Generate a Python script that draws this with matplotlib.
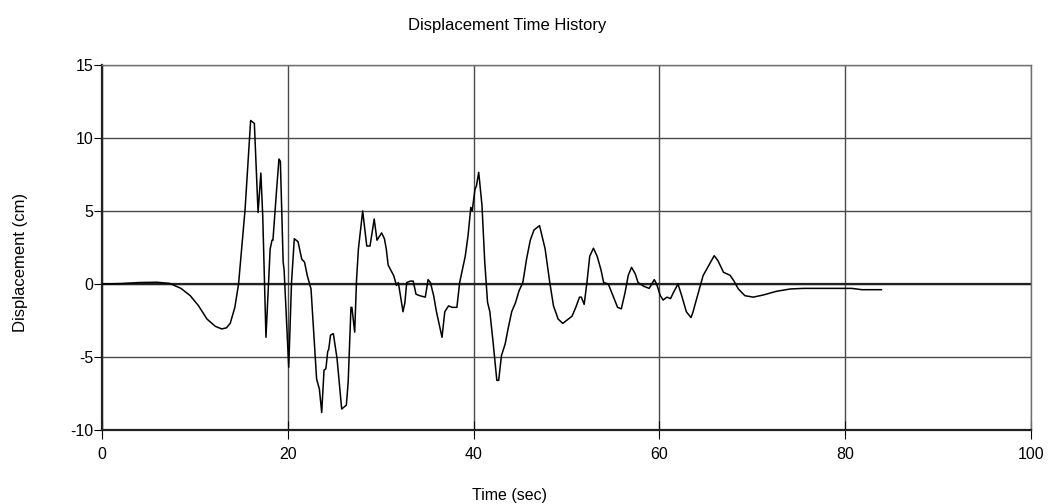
import matplotlib
matplotlib.use("Agg")
import matplotlib.pyplot as plt

time_s = [0, 2, 4, 5.9, 7.3, 8.5, 9.5, 10.4, 11.3, 12.2, 12.9, 13.4, 13.8, 14.3, 14.7, 15.4, 16.0, 16.4,
          16.8, 17.1, 17.3, 17.65, 18.1, 18.3, 18.4, 18.8, 19.05, 19.2, 19.5, 19.6, 20.1, 20.4, 20.7,
          21.1, 21.5, 21.8, 22.1, 22.5, 23.1, 23.4, 23.65, 23.9, 24.1, 24.3, 24.4, 24.6, 24.9, 25.3,
          25.8, 26.3, 26.5, 26.8, 26.9, 27.2, 27.4, 27.6, 28.06, 28.5, 28.85, 29.3, 29.6, 30.1, 30.4,
          30.6, 30.8, 31.4, 31.7, 31.9, 32.4, 32.6, 32.8, 33.2, 33.5, 33.8, 34.2, 34.8, 35.1, 35.35,
          35.7, 36.0, 36.6, 36.9, 37.3, 37.7, 38.2, 38.5, 39.1, 39.4, 39.7, 39.85, 40.15, 40.3, 40.55,
          40.9, 41.2, 41.5, 41.75, 42.1, 42.5, 42.7, 43.0, 43.4, 43.7, 44.1, 44.5, 44.9, 45.3, 45.7,
          46.1, 46.5, 47.1, 47.7, 48.2, 48.6, 49.1, 49.6, 50.0, 50.6, 51.0, 51.4, 51.6, 51.9, 52.2,
          52.5, 52.9, 53.3, 53.7, 54.0, 54.5, 55.0, 55.5, 55.9, 56.3, 56.65, 57.0, 57.4, 57.7, 58.3,
          58.9, 59.45, 59.7, 60.1, 60.4, 60.8, 61.2, 61.5, 62.0, 62.4, 62.9, 63.4, 63.6, 64.2, 64.7,
          65.3, 65.9, 66.3, 66.9, 67.6, 68.0, 68.5, 69.2, 70.1, 71.2, 72.6, 74.1, 75.5, 77.3, 79.8,
          80.7, 81.8, 83.9]
displacement_cm = [0, 0.03, 0.1, 0.12, 0.04, -0.3, -0.8, -1.5, -2.4, -2.9, -3.08, -3.0, -2.7, -1.6, 0.0, 5.1, 11.2, 11.0,
                   4.9, 7.6, 4.7, -3.65, 2.4, 3.0, 3.0, 6.5, 8.56, 8.4, 1.5, 1.0, -5.7, 0.1, 3.1,
                   2.9, 1.7, 1.5, 0.57, -0.34, -6.5, -7.2, -8.8, -5.9, -5.8, -4.6, -4.5, -3.5, -3.4, -5.1,
                   -8.56, -8.3, -6.7, -1.6, -1.6, -3.3, 0.3, 2.4, 5.0, 2.6, 2.6, 4.45, 3.0, 3.5, 3.1,
                   2.4, 1.3, 0.57, -0.1, 0.1, -1.9, -1.3, 0.1, 0.2, 0.2, -0.7, -0.8, -0.9, 0.3, 0.1,
                   -0.8, -1.9, -3.65, -1.9, -1.5, -1.6, -1.6, 0.1, 1.9, 3.3, 5.25, 5.0, 6.5, 6.7, 7.65,
                   5.4, 1.5, -1.25, -1.9, -4.0, -6.6, -6.6, -4.9, -4.1, -3.1, -1.9, -1.3, -0.45, 0.1, 1.7,
                   3.0, 3.7, 4.0, 2.4, 0.1, -1.5, -2.4, -2.7, -2.5, -2.2, -1.6, -0.9, -0.9, -1.4, 0.1,
                   1.9, 2.45, 1.9, 1.0, 0.1, 0.0, -0.8, -1.6, -1.7, -0.6, 0.6, 1.14, 0.7, 0.1, -0.15,
                   -0.3, 0.3, 0.0, -0.8, -1.1, -0.9, -1.0, -0.6, 0.0, -0.8, -1.9, -2.3, -1.95, -0.57, 0.57,
                   1.25, 1.94, 1.6, 0.8, 0.6, 0.23, -0.34, -0.8, -0.9, -0.75, -0.5, -0.34, -0.3, -0.3, -0.3,
                   -0.3, -0.39, -0.39]

x_ticks = [0, 20, 40, 60, 80, 100]
y_ticks = [-10, -5, 0, 5, 10, 15]

plt.rcParams['font.family'] = ['Liberation Sans', 'DejaVu Sans']
plt.rcParams['axes.unicode_minus'] = False

fig = plt.figure(figsize=(10.5, 5.04), dpi=100)
ax = fig.add_axes([102/1050, 74/504, 929/1050, 365/504])

ax.set_xlim(0, 100)
ax.set_ylim(-10, 15)
ax.set_xticks(x_ticks)
ax.set_yticks(y_ticks)
ax.grid(True, color='#4a4a4a', linewidth=1.0)
ax.set_axisbelow(True)
ax.axhline(0, color='#222222', linewidth=1.6, zorder=1.5)

ax.plot(time_s, displacement_cm, color='black', linewidth=1.1, zorder=3)

for s in ['top', 'right']:
    ax.spines[s].set_color('#707070')
    ax.spines[s].set_linewidth(1.0)
for s in ['left', 'bottom']:
    ax.spines[s].set_color('#222222')
    ax.spines[s].set_linewidth(1.6)

ax.tick_params(axis='y', direction='out', length=6, labelsize=11.5, pad=0)
ax.tick_params(axis='x', direction='inout', length=13, labelsize=11.5, pad=6)

fig.text(507/1050, 1 - 30/504, 'Displacement Time History', fontsize=12,
         ha='center', va='baseline')
fig.text(510/1050, 1 - 500/504, 'Time (sec)', fontsize=11.5, ha='center', va='baseline')
fig.text(21/1050, 1 - 262/504, 'Displacement (cm)', fontsize=12, ha='center', va='center',
         rotation=90)

fig.savefig('out.png', dpi=100)
